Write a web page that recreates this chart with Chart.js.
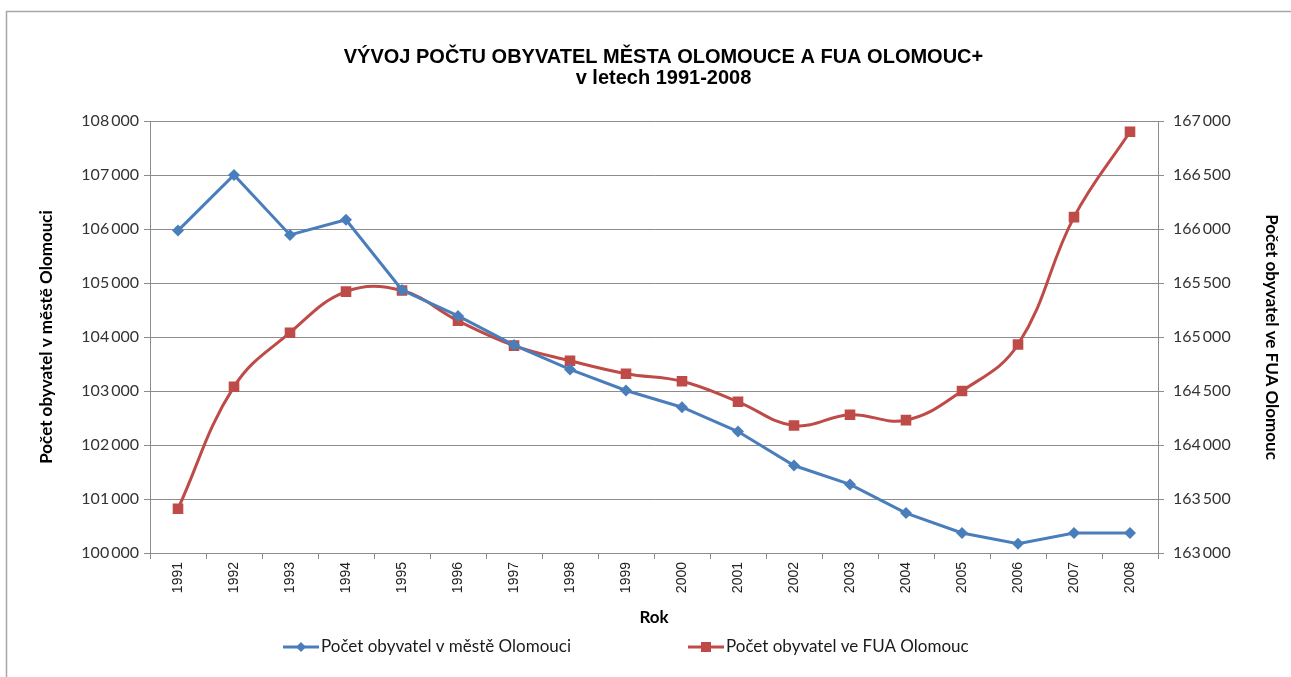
<!DOCTYPE html>
<html>
<head>
<meta charset="utf-8">
<script src="https://cdn.jsdelivr.net/npm/chart.js@4.4.1/dist/chart.umd.min.js"></script>
<style>
  html, body { margin: 0; padding: 0; background: #ffffff; }
  #wrap { position: relative; width: 1291px; height: 677px; }
</style>
</head>
<body>
<div id="wrap"><canvas id="c" width="1291" height="677"></canvas></div>
<script>
const years = ['1991','1992','1993','1994','1995','1996','1997','1998','1999','2000','2001','2002','2003','2004','2005','2006','2007','2008'];
const cityPop = [105970, 107000, 105890, 106170, 104870, 104390, 103850, 103400, 103010, 102700, 102250, 101620, 101270, 100740, 100370, 100170, 100370, 100370];
const fuaPop = [163410, 164540, 165040, 165420, 165430, 165150, 164920, 164780, 164660, 164590, 164400, 164180, 164280, 164230, 164500, 164930, 166110, 166900];
const titleLines = ['VÝVOJ POČTU OBYVATEL MĚSTA OLOMOUCE A FUA OLOMOUC+', 'v letech 1991-2008'];
const cityLabel = 'Počet obyvatel v městě Olomouci';
const fuaLabel = 'Počet obyvatel ve FUA Olomouc';
const xTitle = 'Rok';

const BLUE = '#4a7ebb';
const RED = '#be4b48';
const GRID = '#8c8c8c';
const TICKFONT = {family: 'Lato, "Open Sans", sans-serif', size: 16};
const AXTITLE = {family: 'Lato, "Open Sans", sans-serif', size: 17, weight: 'bold', lineHeight: 1.2};

function fmt(v) { return String(v).replace(/\B(?=(\d{3})+(?!\d))/g, '\u2009'); }

const framePlugin = {
  id: 'frame',
  beforeDraw(chart) {
    const ctx = chart.ctx;
    ctx.save();
    ctx.fillStyle = '#ffffff';
    ctx.fillRect(0, 0, chart.width, chart.height);
    ctx.strokeStyle = '#a6a6a6';
    ctx.lineWidth = 1.5;
    ctx.beginPath();
    ctx.moveTo(6.5, chart.height + 5);
    ctx.lineTo(6.5, 11.5);
    ctx.lineTo(chart.width + 5, 11.5);
    ctx.stroke();
    ctx.restore();
  }
};

const legendPlugin = {
  id: 'customLegend',
  afterDraw(chart) {
    const ctx = chart.ctx;
    const y = 647;
    const items = [
      {x: 283, ds: chart.data.datasets[0]},
      {x: 688, ds: chart.data.datasets[1]}
    ];
    ctx.save();
    items.forEach(it => {
      const ds = it.ds;
      ctx.strokeStyle = ds.borderColor;
      ctx.lineWidth = 3;
      ctx.beginPath();
      ctx.moveTo(it.x, y);
      ctx.lineTo(it.x + 36, y);
      ctx.stroke();
      ctx.fillStyle = ds.pointBackgroundColor;
      const cx = it.x + 18;
      ctx.beginPath();
      if (ds.pointStyle === 'rectRot') {
        const r = 5;
        ctx.moveTo(cx - r, y); ctx.lineTo(cx, y - r); ctx.lineTo(cx + r, y); ctx.lineTo(cx, y + r);
        ctx.closePath();
      } else {
        ctx.rect(cx - 5, y - 5, 10, 10);
      }
      ctx.fill();
      ctx.fillStyle = '#1a1a1a';
      ctx.font = '17px Lato, "Open Sans", sans-serif';
      ctx.textBaseline = 'middle';
      ctx.textAlign = 'left';
      ctx.fillText(ds.label, it.x + 38, y);
    });
    ctx.restore();
  }
};

new Chart(document.getElementById('c'), {
  type: 'line',
  data: {
    labels: years,
    datasets: [
      {
        label: cityLabel,
        data: cityPop,
        yAxisID: 'y',
        borderColor: BLUE,
        backgroundColor: BLUE,
        pointBackgroundColor: BLUE,
        pointBorderColor: BLUE,
        borderWidth: 3,
        pointStyle: 'rectRot',
        pointRadius: 6,
        pointBorderWidth: 0,
        tension: 0
      },
      {
        label: fuaLabel,
        data: fuaPop,
        yAxisID: 'y1',
        borderColor: RED,
        backgroundColor: RED,
        pointBackgroundColor: RED,
        pointBorderColor: RED,
        borderWidth: 3,
        pointStyle: 'rect',
        pointRadius: 7.5,
        pointBorderWidth: 0,
        tension: 0.4
      }
    ]
  },
  options: {
    responsive: false,
    animation: false,
    devicePixelRatio: 1,
    layout: {padding: {left: 36, right: 0, top: 0, bottom: 49}},
    plugins: {
      legend: {display: false},
      tooltip: {enabled: false},
      title: {
        display: true,
        text: titleLines,
        color: '#000000',
        font: {family: '"Liberation Sans", Arial, sans-serif', size: 20, weight: 'bold', lineHeight: 1.05},
        padding: {top: 47, bottom: 32}
      }
    },
    scales: {
      x: {
        type: 'category',
        offset: true,
        grid: {display: true, drawOnChartArea: false, drawTicks: true, tickLength: 6, color: GRID, offset: true},
        border: {display: true, color: GRID, width: 1},
        ticks: {
          minRotation: 90, maxRotation: 90, padding: 3,
          color: '#222222',
          font: {family: '"Liberation Sans", Arial, sans-serif', size: 14}
        },
        title: {display: true, text: xTitle, color: '#000000', font: AXTITLE, padding: {top: 0, bottom: 0}},
        afterFit(scale) { scale.height = 75; }
      },
      y: {
        position: 'left',
        min: 100000, max: 108000,
        grid: {display: true, drawOnChartArea: true, drawTicks: true, tickLength: 6, color: GRID},
        border: {display: true, color: GRID, width: 1},
        ticks: {stepSize: 1000, padding: 5, color: '#333333', font: TICKFONT, callback: v => fmt(v)},
        title: {display: true, text: cityLabel, color: '#000000', font: AXTITLE, padding: {top: 0, bottom: 0}},
        afterFit(scale) { scale.width = 114; }
      },
      y1: {
        position: 'right',
        min: 163000, max: 167000,
        grid: {display: true, drawOnChartArea: false, drawTicks: true, tickLength: 6, color: GRID},
        border: {display: true, color: GRID, width: 1},
        ticks: {stepSize: 500, padding: 9, color: '#333333', font: TICKFONT, callback: v => fmt(v)},
        title: {display: true, text: fuaLabel, color: '#000000', font: AXTITLE, padding: {top: 9, bottom: 0}},
        afterFit(scale) { scale.width = 133; }
      }
    }
  },
  plugins: [framePlugin, legendPlugin]
});
</script>
</body>
</html>
